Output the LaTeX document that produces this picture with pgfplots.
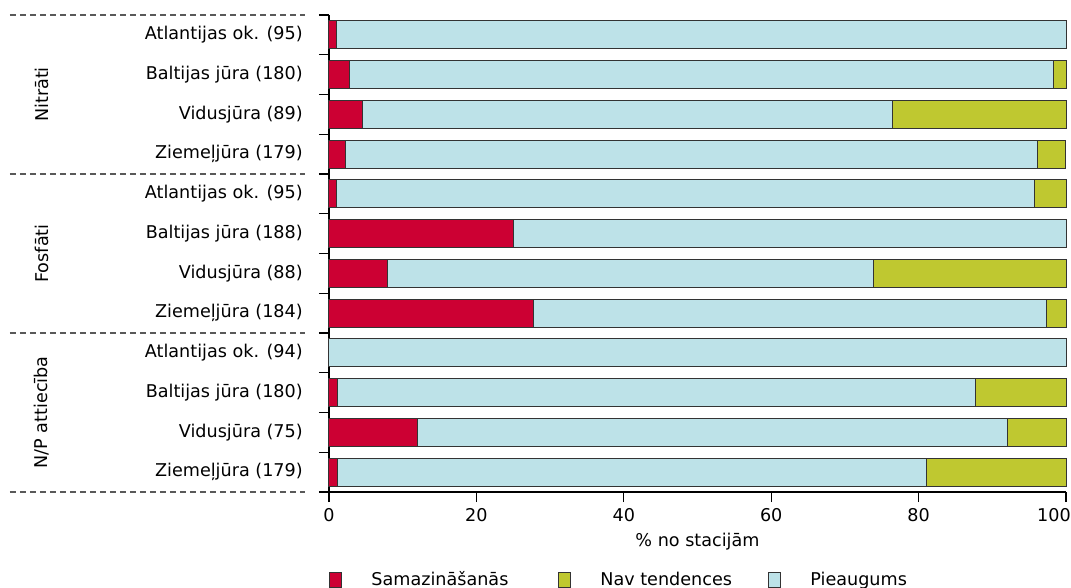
\documentclass[border=0pt]{standalone}
\usepackage{pgfplots}
\pgfplotsset{compat=1.18}
\usepackage{pgfplotstable}
\usepackage{fontspec}
\setmainfont{DejaVu Sans}

\definecolor{cDown}{HTML}{CC0033}
\definecolor{cNone}{HTML}{BFC830}
\definecolor{cUp}{HTML}{BDE2E8}
\definecolor{cEdge}{HTML}{333333}

% share of stations per trend (%), rows top to bottom
\pgfplotstableread{
y   down   up     none
0   1.05   98.95  0
1   2.78   95.56  1.67
2   4.49   71.91  23.60
3   2.23   93.85  3.91
4   1.05   94.74  4.21
5   25.00  75.00  0
6   7.95   65.91  26.14
7   27.72  69.57  2.72
8   0      100    0
9   1.11   86.67  12.22
10  12.00  80.00  8.00
11  1.12   79.89  18.99
}\trends

\begin{document}
\fontsize{8.8}{10.5}\selectfont
\begin{tikzpicture}
\begin{axis}[
  scale only axis,
  width=368.5pt, height=238.5pt,
  xbar stacked, bar width=14pt,
  y dir=reverse,
  xmin=0, xmax=100, ymin=-0.5, ymax=11.5,
  axis x line*=bottom, axis y line*=left,
  axis line style={black, line width=0.6pt, -},
  xtick={0,20,...,100},
  xticklabels={0,20,40,60,80,{\makebox[0pt][c]{\hspace*{-12pt}100}}},
  xticklabel style={yshift=0pt},
  tick align=outside, major tick length=5pt,
  tick style={black, line width=0.6pt},
  ytick={0,...,11},
  yticklabels={Atlantijas ok. (95), Baltijas jūra (180), Vidusjūra (89), Ziemeļjūra (179),
               Atlantijas ok. (95), Baltijas jūra (188), Vidusjūra (88), Ziemeļjūra (184),
               Atlantijas ok. (94), Baltijas jūra (180), Vidusjūra (75), Ziemeļjūra (179)},
  ytick style={draw=none},
  yticklabel style={xshift=-5pt},
  extra y ticks={-0.5,0.5,...,11.5},
  extra y tick labels={},
  extra y tick style={ytick style={draw=black}},
  xlabel={\% no stacijām},
  xlabel style={yshift=0.5pt},
  /pgf/number format/assume math mode=true,
  legend columns=3,
  legend style={draw=none, at={(0,-0.1845)}, anchor=west, inner sep=0pt,
    /tikz/every even column/.append style={column sep=0pt},
    legend cell align=left, font=\fontsize{8.8}{10.5}\selectfont},
  legend image code/.code={\draw[#1] (0pt,-3.75pt) rectangle (6pt,3.75pt);},
  clip=false,
]
\addplot[fill=cDown, draw=cEdge, line width=0.5pt, forget plot] table[x=down, y=y] {\trends};
\addplot[fill=cUp, draw=cEdge, line width=0.5pt, forget plot] table[x=up, y=y] {\trends};
\addplot[fill=cNone, draw=cEdge, line width=0.5pt, forget plot] table[x=none, y=y] {\trends};

\addlegendimage{fill=cDown, draw=cEdge, line width=0.5pt}
\addlegendentry{\makebox[104pt][l]{\hspace{12.5pt}Samazināšanās}}
\addlegendimage{fill=cNone, draw=cEdge, line width=0.5pt}
\addlegendentry{\makebox[94.5pt][l]{\hspace{12.5pt}Nav tendences}}
\addlegendimage{fill=cUp, draw=cEdge, line width=0.5pt}
\addlegendentry{\hspace{12.5pt}Pieaugums}

% group separators and group names
\pgfplotsinvokeforeach{-0.5,3.5,7.5,11.5}{
  \draw[black!65, line width=0.6pt, dash pattern=on 3pt off 2pt]
    ([xshift=-159.5pt]axis cs:0,#1) -- ([xshift=-12pt]axis cs:0,#1);
}
\node[rotate=90] at ([xshift=-143.5pt]axis cs:0,1.5) {Nitrāti};
\node[rotate=90] at ([xshift=-143.5pt]axis cs:0,5.5) {Fosfāti};
\node[rotate=90] at ([xshift=-143.5pt]axis cs:0,9.5) {N/P attiecība};

\coordinate (bl) at (axis cs:0,11.5);
\coordinate (tr) at (axis cs:100,-0.5);
\end{axis}
\pgfresetboundingbox
\path[use as bounding box] ([xshift=-164.5pt,yshift=-48pt]bl) rectangle ([xshift=2.5pt,yshift=7.5pt]tr);
\end{tikzpicture}
\end{document}
